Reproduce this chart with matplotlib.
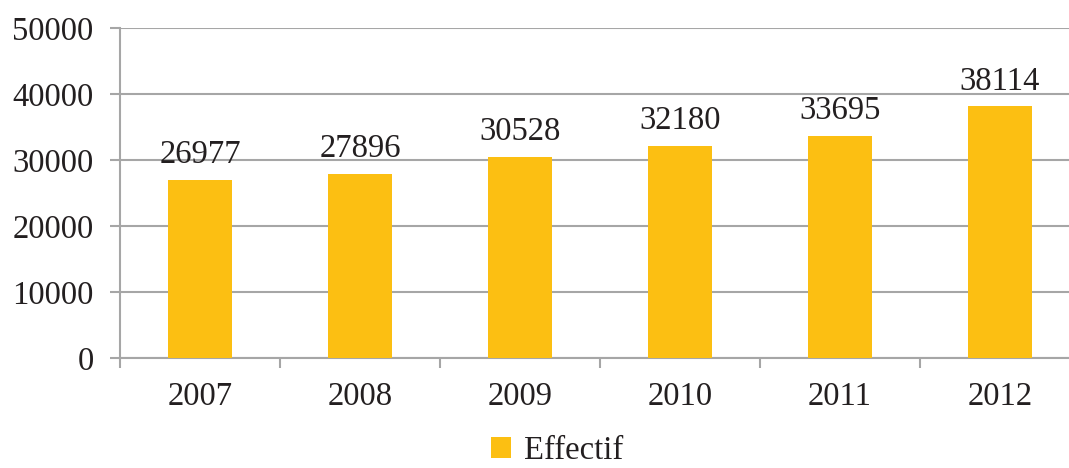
import matplotlib.pyplot as plt
import numpy as np

# Données
annees = ['2007', '2008', '2009', '2010', '2011', '2012']
effectif = [26977, 27896, 30528, 32180, 33695, 38114]

couleur_barre = '#FCBF12'
gris = '#A6A6A6'
texte = '#231F20'
taille = 23.5

plt.rcParams['font.family'] = ['Liberation Serif', 'DejaVu Serif']

fig = plt.figure(figsize=(10.69, 4.68), dpi=100)
ax = fig.add_axes([120 / 1069, 110 / 468, 960 / 1069, 330 / 468])

x = np.arange(len(annees))
barres = ax.bar(x, effectif, width=0.4, color=couleur_barre, label='Effectif', zorder=3)

for xi, v in zip(x, effectif):
    ax.annotate(str(v), (xi, v), xytext=(0, 7), textcoords='offset points',
                ha='center', va='bottom', fontsize=taille, color=texte)

ax.set_ylim(0, 50000)
ax.set_yticks(range(0, 50001, 10000))
ax.set_xlim(-0.5, len(annees) - 0.5)
ax.set_xticks(x)
ax.set_xticklabels(annees)
ax.set_xticks(np.arange(-0.5, len(annees), 1), minor=True)

ax.grid(axis='y', color=gris, linewidth=1.5, zorder=0)
for s in ['top', 'right']:
    ax.spines[s].set_visible(False)
for s in ['left', 'bottom']:
    ax.spines[s].set_color(gris)
    ax.spines[s].set_linewidth(1.5)

ax.tick_params(axis='y', length=7, width=1.5, color=gris, labelsize=taille, labelcolor=texte, pad=12)
ax.tick_params(axis='x', which='major', length=0, labelsize=taille, labelcolor=texte, pad=17)
ax.tick_params(axis='x', which='minor', length=7, width=1.5, color=gris)

fig.legend(handles=[barres], labels=['Effectif'], loc='center', bbox_to_anchor=(557 / 1069, 1 - 451 / 468),
           frameon=False, fontsize=taille, handlelength=0.6, handleheight=0.6, handletextpad=0.4,
           labelcolor=texte, borderpad=0.1)

fig.savefig('out.png', dpi=100)
